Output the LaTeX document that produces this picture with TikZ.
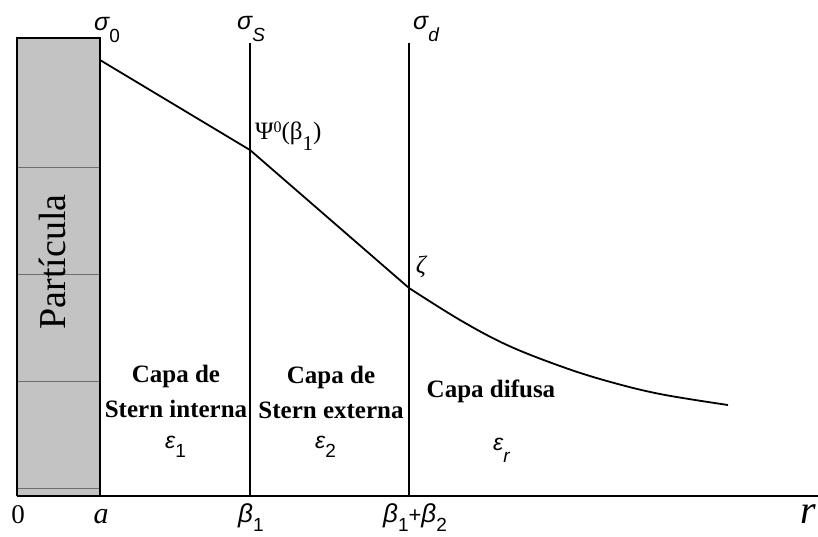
\documentclass[tikz,border=0pt]{standalone}
\usepackage{fontspec}
\setmainfont{Liberation Serif}
\newfontfamily\lsans{Liberation Sans}
\newcommand{\sit}[1]{{\lsans\itshape #1}}
% \gsub{lowering}{text}
\newcommand{\gsub}[2]{\raisebox{-#1}{\lsans\fontsize{19}{19}\selectfont #2}}
\newcommand{\gsubit}[2]{\raisebox{-#1}{\lsans\itshape\fontsize{19}{19}\selectfont #2}}
\tikzset{
  lbl/.style={inner sep=0pt, anchor=center},
  sym/.style={inner sep=0pt, anchor=base west, font=\fontsize{25}{25}\selectfont},
  regionlbl/.style={lbl, align=center, font=\bfseries\fontsize{25}{35}\selectfont},
  vline/.style={line width=1.4pt},
  curveline/.style={line width=1.8pt},
}
\begin{document}
\begin{tikzpicture}[x=1pt,y=-1pt]
\useasboundingbox (0,0) rectangle (818,536);
% particle
\fill[fill={rgb,255:red,195;green,195;blue,195}] (17,38) rectangle (100,496);
\foreach \yy in {167,274,381,488}
  \draw[line width=0.6pt, draw={rgb,255:red,110;green,110;blue,110}] (17,\yy) -- (100,\yy);
\draw[line width=1.3pt] (17,496) -- (17,38) -- (100,38) -- (100,496);
\node[lbl, rotate=90, font=\fontsize{38}{38}\selectfont] (part) at (52,262) {Partícula};
% axis
\coordinate (ax0) at (17,496);
\coordinate (axend) at (818,496);
\draw[line width=2.4pt] (ax0) -- (axend);
% vertical lines
\coordinate (sTop) at (250,43);
\coordinate (sBot) at (250,496);
\coordinate (dTop) at (409,43);
\coordinate (dBot) at (409,496);
\draw[vline] (sTop) -- (sBot);
\draw[vline] (dTop) -- (dBot);
% curve
\coordinate (c0) at (100,60);
\coordinate (c1) at (250,150);
\coordinate (c2) at (409,288);
\coordinate (c3) at (728,405);
\draw[curveline] (c0) -- (c1) -- (c2);
\draw[curveline] plot[smooth, tension=0.6] coordinates {(409,288) (460,320) (507,345) (560,366) (607,381) (660,394) (728,405)};
% top labels
\node[sym] (s0) at (94,30) {\sit{σ}\gsub{12pt}{0}};
\node[sym] (sS) at (237,29) {\sit{σ}\gsubit{12pt}{S}};
\node[sym] (sd) at (413,29) {\sit{σ}\gsubit{12pt}{d}};
% point labels
\node[inner sep=0pt, anchor=base west, font=\fontsize{25}{25}\selectfont] (psi) at (255,139)
  {Ψ\raisebox{7pt}{\fontsize{16}{16}\selectfont 0}(β\raisebox{-11pt}{\fontsize{21}{21}\selectfont 1})};
\node[lbl, font=\itshape\fontsize{25}{25}\selectfont] (zeta) at (421,267) {ζ};
% region labels
\node[regionlbl] (r1) at (176,391) {Capa de\\Stern interna};
\node[regionlbl] (r2) at (331,392) {Capa de\\Stern externa};
\node[regionlbl] (r3) at (491,391) {Capa difusa};
\node[sym, font=\fontsize{23}{23}\selectfont] (e1) at (165,448) {\sit{ε}\gsub{9pt}{1}};
\node[sym, font=\fontsize{23}{23}\selectfont] (e2) at (315,448) {\sit{ε}\gsub{9pt}{2}};
\node[sym, font=\fontsize{23}{23}\selectfont] (er) at (493,450) {\sit{ε}\gsubit{12pt}{r}};
% axis labels
\node[inner sep=0pt, anchor=base, font=\fontsize{27}{27}\selectfont] (l0) at (18,523) {0};
\node[inner sep=0pt, anchor=base, font=\itshape\fontsize{30}{30}\selectfont] (la) at (101,523) {a};
\node[sym, font=\fontsize{26}{26}\selectfont] (lb1) at (238,522) {\sit{β}\gsub{9pt}{1}};
\node[sym, font=\fontsize{26}{26}\selectfont] (lb12) at (383,522) {\sit{β}\gsub{9pt}{1}{\lsans\fontsize{22}{22}\selectfont +}\sit{β}\gsub{9pt}{2}};
\node[inner sep=0pt, anchor=base, font=\itshape\fontsize{40}{40}\selectfont] (lr) at (808,523) {r};
\end{tikzpicture}
\end{document}
